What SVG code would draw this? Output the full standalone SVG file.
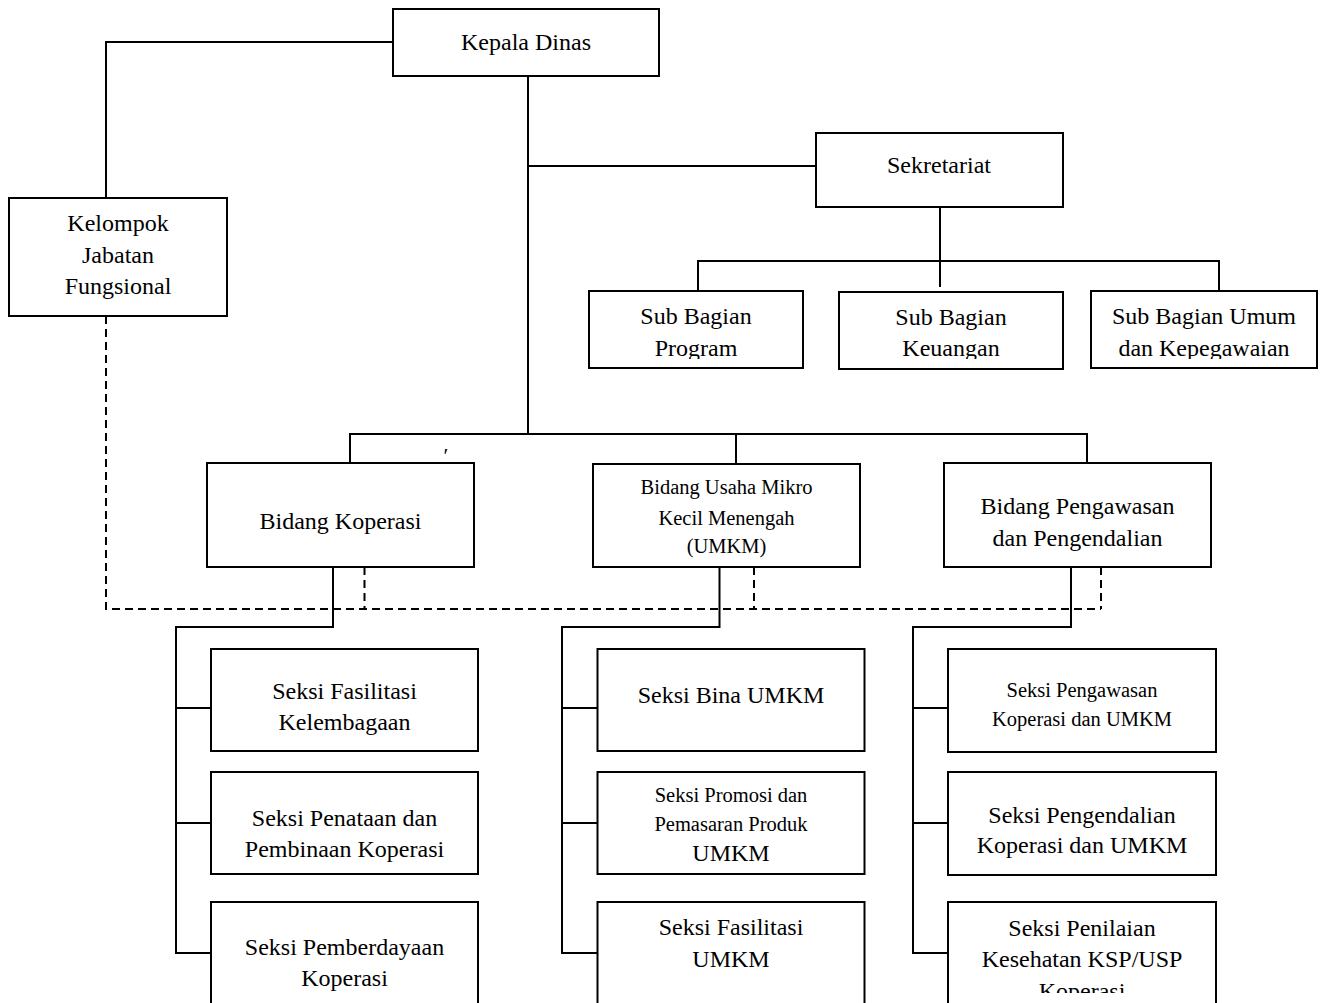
<svg xmlns="http://www.w3.org/2000/svg" width="1323" height="1003" viewBox="0 0 1323 1003">
<style>
.box{fill:#fff;stroke:#000;stroke-width:2}
.ln{fill:none;stroke:#000;stroke-width:2}
.dash{fill:none;stroke:#000;stroke-width:2;stroke-dasharray:8 5}
text{font-family:"Liberation Serif","Times New Roman",serif;font-size:24px;fill:#000;text-anchor:middle}
text.s{font-size:20.5px}
</style>
<defs>
<clipPath id="cSub"><rect x="0" y="280" width="1323" height="79"/></clipPath>
<clipPath id="cBot"><rect x="0" y="900" width="1323" height="93"/></clipPath>
</defs>
<rect width="1323" height="1003" fill="#fff"/>

<g id="connectors">
<polyline class="ln" points="393,42 106,42 106,198"/>
<line class="ln" x1="528" y1="76" x2="528" y2="434"/>
<line class="ln" x1="528" y1="166" x2="816" y2="166"/>
<line class="ln" x1="940" y1="207" x2="940" y2="287"/>
<polyline class="ln" points="698,291 698,261 1219,261 1219,291"/>
<polyline class="ln" points="350,463 350,434 1087,434 1087,463"/>
<line class="ln" x1="736" y1="434" x2="736" y2="463"/>
<polyline class="ln" points="333,567 333,627 176,627 176,953 211,953"/>
<line class="ln" x1="176" y1="708" x2="211" y2="708"/>
<line class="ln" x1="176" y1="823" x2="211" y2="823"/>
<polyline class="ln" points="719.5,567 719.5,627 562,627 562,953 597,953"/>
<line class="ln" x1="562" y1="708" x2="597" y2="708"/>
<line class="ln" x1="562" y1="823" x2="597" y2="823"/>
<polyline class="ln" points="1071,567 1071,627 913,627 913,953 948,953"/>
<line class="ln" x1="913" y1="708" x2="948" y2="708"/>
<line class="ln" x1="913" y1="823" x2="948" y2="823"/>
<polyline class="dash" points="106,316 106,609 1101,609"/>
<line class="dash" x1="364.5" y1="567" x2="364.5" y2="609"/>
<line class="dash" x1="754" y1="567" x2="754" y2="609"/>
<line class="dash" x1="1101" y1="567" x2="1101" y2="609"/>
</g>

<g id="kepala-dinas"><rect class="box" x="393" y="9" width="266" height="67"/><text x="526" y="50">Kepala Dinas</text></g>
<g id="kelompok"><rect class="box" x="9" y="198" width="218" height="118"/><text x="118" y="231">Kelompok</text><text x="118" y="263">Jabatan</text><text x="118" y="294">Fungsional</text></g>
<g id="sekretariat"><rect class="box" x="816" y="133" width="247" height="74"/><text x="939" y="173">Sekretariat</text></g>
<g id="sub-program"><rect class="box" x="589" y="291" width="214" height="77"/><g clip-path="url(#cSub)"><text x="696" y="324">Sub Bagian</text><text x="696" y="356">Program</text></g></g>
<g id="sub-keuangan"><rect class="box" x="839" y="292" width="224" height="77"/><g clip-path="url(#cSub)"><text x="951" y="325">Sub Bagian</text><text x="951" y="356">Keuangan</text></g></g>
<g id="sub-umum"><rect class="box" x="1091" y="291" width="226" height="77"/><g clip-path="url(#cSub)"><text x="1204" y="324">Sub Bagian Umum</text><text x="1204" y="356">dan Kepegawaian</text></g></g>

<text x="446" y="463" style="font-size:22px">′</text>

<g id="bidang-koperasi"><rect class="box" x="207" y="463" width="267" height="104"/><text x="340.5" y="529">Bidang Koperasi</text></g>
<g id="bidang-umkm"><rect class="box" x="593" y="464" width="267" height="103"/><text class="s" x="726.5" y="494">Bidang Usaha Mikro</text><text class="s" x="726.5" y="525">Kecil Menengah</text><text class="s" x="726.5" y="553">(UMKM)</text></g>
<g id="bidang-pengawasan"><rect class="box" x="944" y="463" width="267" height="104"/><text x="1077.5" y="514">Bidang Pengawasan</text><text x="1077.5" y="546">dan Pengendalian</text></g>

<g id="seksi-fasilitasi-kelembagaan"><rect class="box" x="211" y="649" width="267" height="102"/><text x="344.5" y="699">Seksi Fasilitasi</text><text x="344.5" y="730">Kelembagaan</text></g>
<g id="seksi-penataan"><rect class="box" x="211" y="772" width="267" height="102"/><text x="344.5" y="826">Seksi Penataan dan</text><text x="344.5" y="857">Pembinaan Koperasi</text></g>
<g id="seksi-pemberdayaan"><rect class="box" x="211" y="902" width="267" height="120"/><text x="344.5" y="955">Seksi Pemberdayaan</text><text x="344.5" y="986">Koperasi</text></g>

<g id="seksi-bina-umkm"><rect class="box" x="597.5" y="649" width="267" height="102"/><text x="731" y="703">Seksi Bina UMKM</text></g>
<g id="seksi-promosi"><rect class="box" x="597.5" y="772" width="267" height="102"/><text class="s" x="731" y="802">Seksi Promosi dan</text><text class="s" x="731" y="831">Pemasaran Produk</text><text x="731" y="861">UMKM</text></g>
<g id="seksi-fasilitasi-umkm"><rect class="box" x="597.5" y="902" width="267" height="120"/><text x="731" y="935">Seksi Fasilitasi</text><text x="731" y="967">UMKM</text></g>

<g id="seksi-pengawasan"><rect class="box" x="948" y="649" width="268" height="103"/><text class="s" x="1082" y="697">Seksi Pengawasan</text><text class="s" x="1082" y="726">Koperasi dan UMKM</text></g>
<g id="seksi-pengendalian"><rect class="box" x="948" y="772" width="268" height="103"/><text x="1082" y="823">Seksi Pengendalian</text><text x="1082" y="853">Koperasi dan UMKM</text></g>
<g id="seksi-penilaian"><rect class="box" x="948" y="902" width="268" height="120"/><text x="1082" y="936">Seksi Penilaian</text><text x="1082" y="967">Kesehatan KSP/USP</text><g clip-path="url(#cBot)"><text x="1082" y="999">Koperasi</text></g></g>
</svg>
